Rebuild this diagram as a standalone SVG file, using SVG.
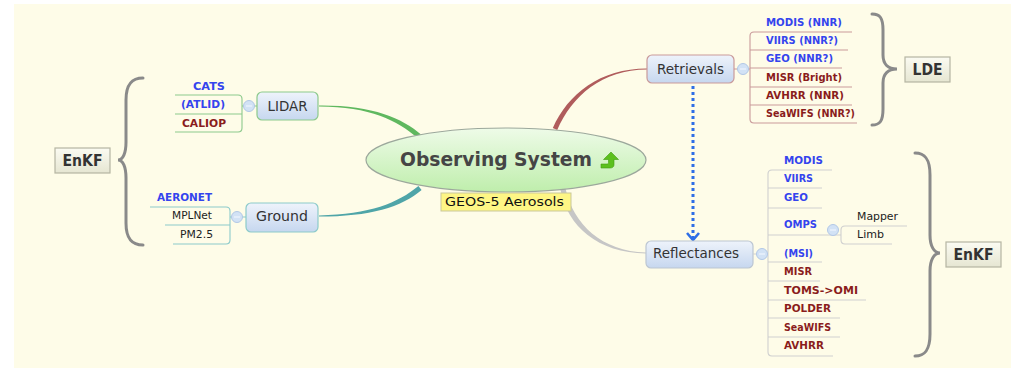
<svg xmlns="http://www.w3.org/2000/svg" width="1011" height="368" viewBox="0 0 1011 368">
<defs>
<linearGradient id="gEll" x1="0" y1="0" x2="0" y2="1"><stop offset="0" stop-color="#eefbe8"/><stop offset="1" stop-color="#bfeeac"/></linearGradient>
<linearGradient id="gBox" x1="0" y1="0" x2="0" y2="1"><stop offset="0" stop-color="#eef3fb"/><stop offset="1" stop-color="#c6d7ef"/></linearGradient>
<linearGradient id="gSum" x1="0" y1="0" x2="0" y2="1"><stop offset="0" stop-color="#fbfbf2"/><stop offset="1" stop-color="#e6e6d2"/></linearGradient>
</defs>
<style>
.bg{fill:#fefce8}
.box{fill:url(#gBox);stroke-width:1.2}
.sum{fill:url(#gSum);stroke:#b5b5a2;stroke-width:1.2}
.lbl{font-family:"DejaVu Sans","Liberation Sans",sans-serif;font-size:13.5px;fill:#333;text-anchor:middle}
.slbl{font-family:"DejaVu Sans","Liberation Sans",sans-serif;font-size:15px;font-weight:bold;fill:#333;text-anchor:middle}
.ch{font-family:"DejaVu Sans","Liberation Sans",sans-serif;font-size:11px;font-weight:bold}
.cn{font-family:"DejaVu Sans","Liberation Sans",sans-serif;font-size:10.5px;fill:#222}
.b{fill:#3444ee}
.r{fill:#8a1c1c}
.ln{fill:none;stroke-width:1.1}
.brace{fill:none;stroke:#8a8a8a;stroke-width:3;stroke-linecap:round}
.col{fill:#d2e2f5;stroke:#b2c8e6;stroke-width:1}
.colm{stroke:#f4f8ff;stroke-width:1}
</style>
<rect class="bg" x="14" y="4" width="997" height="364"/>

<g id="connectors">
<path d="M319,105.5 C372,105 402,118 421,134.5 L417,137.5 C398,121 370,106.5 319,106.5 Z" fill="#5fb85f"/>
<path d="M319,215.5 C370,214.5 398,203 418.4,186.1 L421.6,189.9 C402,207 370,216.5 319,216.5 Z" fill="#4fa5a8"/>
<path d="M552.8,128 C568,94 600,68.5 647,68.5 L647,69.5 C602,69.5 572,96 557.2,130 Z" fill="#b05c5c"/>
<path d="M565.5,188.5 C573,224 602,251.5 646,252.5 L646,253.5 C598,253 567,226 560.5,189.5 Z" fill="#c6c6c6"/>
<line x1="693" y1="86" x2="693" y2="238" stroke="#2e6ee6" stroke-width="3" stroke-dasharray="3,3"/>
<polyline points="687,233 693,240 699,233" fill="none" stroke="#2e6ee6" stroke-width="2.6"/>
</g>

<g id="central">
<ellipse cx="506" cy="160" rx="140" ry="32" fill="url(#gEll)" stroke="#9ca89c" stroke-width="1.2"/>
<text x="400" y="166" font-family="DejaVu Sans, Liberation Sans, sans-serif" font-size="19" font-weight="bold" fill="#454545" textLength="192" lengthAdjust="spacingAndGlyphs">Observing System</text>
<path d="M611,152 L618.5,159.5 L614,159.5 L614,165 C614,167 612,168 610,168 L601,168 L601,164 L607,164 C608,164 608.5,163.5 608.5,162.5 L608.5,159.5 L603.5,159.5 Z" fill="#5cc01e" stroke="#3f9a10" stroke-width="0.6"/>
</g>

<g id="label-geos">
<rect x="441" y="193" width="130" height="18" fill="#fef685" stroke="#c9c79a" stroke-width="1"/>
<text x="445" y="206" font-family="DejaVu Sans, Liberation Sans, sans-serif" font-size="12.5" fill="#111" textLength="119" lengthAdjust="spacingAndGlyphs">GEOS-5 Aerosols</text>
</g>

<g id="lidar">
<rect class="box" x="257" y="92" width="61" height="28" rx="5" stroke="#8cc98c"/>
<text class="lbl" x="287.5" y="110.5" textLength="40" lengthAdjust="spacingAndGlyphs">LIDAR</text>
<path class="ln" stroke="#8cc98c" d="M257,106 L242,106 M175,95 L238,95 Q242,95 242,99 L242,128 Q242,132 238,132 L175,132 M175,114 L242,114"/>
<circle class="col" cx="249" cy="106" r="5.5"/><line class="colm" x1="246" y1="106" x2="252" y2="106"/>
<text class="ch b" x="193" y="90" textLength="32" lengthAdjust="spacingAndGlyphs">CATS</text>
<text class="ch b" x="181" y="108" textLength="44" lengthAdjust="spacingAndGlyphs">(ATLID)</text>
<text class="ch r" x="182" y="127" textLength="44" lengthAdjust="spacingAndGlyphs">CALIOP</text>
</g>

<g id="ground">
<rect class="box" x="246" y="203" width="72" height="29" rx="5" stroke="#8ccaca"/>
<text class="lbl" x="282" y="221" textLength="52" lengthAdjust="spacingAndGlyphs">Ground</text>
<path class="ln" stroke="#8ccaca" d="M246,217 L230,217 M150,207 L226,207 Q230,207 230,211 L230,240 Q230,244 226,244 L173,244 M165,225 L230,225"/>
<circle class="col" cx="237" cy="217" r="5.5"/><line class="colm" x1="234" y1="217" x2="240" y2="217"/>
<text class="ch b" x="157" y="201" textLength="55" lengthAdjust="spacingAndGlyphs">AERONET</text>
<text class="cn" x="172" y="219" textLength="40" lengthAdjust="spacingAndGlyphs">MPLNet</text>
<text class="cn" x="180" y="238" textLength="33" lengthAdjust="spacingAndGlyphs">PM2.5</text>
</g>

<g id="enkf-left">
<path class="brace" d="M143,78 C132,78 126,84 126,100 L126,142 C126,153 123,160 118,160 C123,160 126,167 126,178 L126,223 C126,239 132,245 143,245"/>
<rect class="sum" x="55" y="148" width="55" height="25"/>
<text class="slbl" x="82.5" y="166" textLength="40" lengthAdjust="spacingAndGlyphs">EnKF</text>
</g>

<g id="retrievals">
<rect class="box" x="647" y="55" width="87" height="28" rx="5" stroke="#c99a9a"/>
<text class="lbl" x="690.5" y="74" textLength="67" lengthAdjust="spacingAndGlyphs">Retrievals</text>
<path class="ln" stroke="#c99a9a" d="M734,69 L750,69 M852,32 L754,32 Q750,32 750,36 L750,119 Q750,123 754,123 L857,123 M750,50 L848,50 M750,68 L842,68 M750,87 L852,87 M750,105 L852,105"/>
<circle class="col" cx="743" cy="69" r="5.5"/><line class="colm" x1="740" y1="69" x2="746" y2="69"/>
<text class="ch b" x="766" y="26" textLength="76" lengthAdjust="spacingAndGlyphs">MODIS (NNR)</text>
<text class="ch b" x="766" y="44" textLength="72" lengthAdjust="spacingAndGlyphs">VIIRS (NNR?)</text>
<text class="ch b" x="766" y="62" textLength="67" lengthAdjust="spacingAndGlyphs">GEO (NNR?)</text>
<text class="ch r" x="766" y="81" textLength="76" lengthAdjust="spacingAndGlyphs">MISR (Bright)</text>
<text class="ch r" x="766" y="99" textLength="78" lengthAdjust="spacingAndGlyphs">AVHRR (NNR)</text>
<text class="ch r" x="766" y="117" textLength="89" lengthAdjust="spacingAndGlyphs">SeaWIFS (NNR?)</text>
</g>

<g id="lde">
<path class="brace" d="M872,14 C880,14 883,18 883,30 L883,55 C883,64 888,69 897,69 C888,69 883,74 883,83 L883,109 C883,121 880,125 872,125"/>
<rect class="sum" x="905" y="57" width="45" height="25"/>
<text class="slbl" x="927.5" y="75" textLength="30" lengthAdjust="spacingAndGlyphs">LDE</text>
</g>

<g id="reflectances">
<rect class="box" x="646" y="241" width="107" height="27" rx="5" stroke="#bcc6d2"/>
<text class="lbl" x="696" y="258" textLength="86" lengthAdjust="spacingAndGlyphs">Reflectances</text>
<path class="ln" stroke="#cfcfcf" d="M753,254 L768,254 M832,170 L772,170 Q768,170 768,174 L768,352 Q768,356 772,356 L833,356 M768,188 L822,188 M768,208 L822,208 M768,235 L828,235 M768,262 L822,262 M768,281 L820,281 M768,300 L866,300 M768,318 L840,318 M768,337 L840,337"/>
<circle class="col" cx="762" cy="254" r="5.5"/><line class="colm" x1="759" y1="254" x2="765" y2="254"/>
<text class="ch b" x="784" y="164" textLength="39" lengthAdjust="spacingAndGlyphs">MODIS</text>
<text class="ch b" x="784" y="182" textLength="29" lengthAdjust="spacingAndGlyphs">VIIRS</text>
<text class="ch b" x="784" y="201" textLength="24" lengthAdjust="spacingAndGlyphs">GEO</text>
<text class="ch b" x="784" y="228" textLength="33" lengthAdjust="spacingAndGlyphs">OMPS</text>
<text class="ch b" x="784" y="257" textLength="29" lengthAdjust="spacingAndGlyphs">(MSI)</text>
<text class="ch r" x="784" y="275" textLength="28" lengthAdjust="spacingAndGlyphs">MISR</text>
<text class="ch r" x="784" y="294" textLength="74" lengthAdjust="spacingAndGlyphs">TOMS-&gt;OMI</text>
<text class="ch r" x="784" y="312" textLength="47" lengthAdjust="spacingAndGlyphs">POLDER</text>
<text class="ch r" x="784" y="331" textLength="47" lengthAdjust="spacingAndGlyphs">SeaWIFS</text>
<text class="ch r" x="784" y="349" textLength="40" lengthAdjust="spacingAndGlyphs">AVHRR</text>
</g>

<g id="omps-children">
<path class="ln" stroke="#cfcfcf" d="M828,235 L841,235 M907,226 L845,226 Q841,226 841,230 L841,240 Q841,244 845,244 L892,244"/>
<circle class="col" cx="833" cy="230" r="5.5"/><line class="colm" x1="830" y1="230" x2="836" y2="230"/>
<text class="cn" x="857" y="220" textLength="41" lengthAdjust="spacingAndGlyphs">Mapper</text>
<text class="cn" x="857" y="238" textLength="27" lengthAdjust="spacingAndGlyphs">Limb</text>
</g>

<g id="enkf-right">
<path class="brace" d="M915,153 C925,153 930,159 930,175 L930,235 C930,246 934,253 940,253 C934,253 930,260 930,271 L930,334 C930,350 925,356 915,356"/>
<rect class="sum" x="946" y="242" width="55" height="25"/>
<text class="slbl" x="973.5" y="260" textLength="40" lengthAdjust="spacingAndGlyphs">EnKF</text>
</g>
</svg>
